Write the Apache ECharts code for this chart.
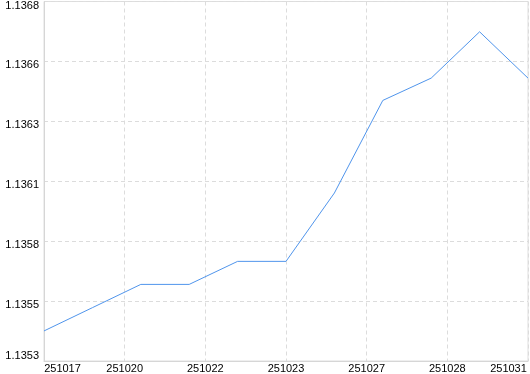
<!DOCTYPE html>
<html><head><meta charset="utf-8">
<script src="https://cdn.jsdelivr.net/npm/echarts@6/dist/echarts.min.js"></script>
<style>html,body{margin:0;padding:0;background:#fff}#c{width:530px;height:374px}</style>
</head><body><div id="c"></div>
<script>
const pointDates = ['251017','251020','251021','251022','251023','251024','251027','251028','251029','251030','251031'];
const seriesValues = [1.135418, 1.135517, 1.135616, 1.135616, 1.135714, 1.135714, 1.136005, 1.136399, 1.136494, 1.136691, 1.136494];
const xTickLabels = ['251017','251020','251022','251023','251027','251028','251031'];
const yTickValues = [1.13529, 1.135545, 1.1358, 1.136055, 1.13631, 1.136565, 1.13682];
const yTickLabels = ['1.1353','1.1355','1.1358','1.1361','1.1363','1.1366','1.1368'];

const xStep = 60 / (pointDates.length - 1);
const data = seriesValues.map((v, i) => [i * xStep, v]);

function nearestIdx(arr, v) {
  let best = 0, bd = Infinity;
  arr.forEach((a, i) => { const d = Math.abs(a - v); if (d < bd) { bd = d; best = i; } });
  return best;
}

const FS = 11;
const chart = echarts.init(document.getElementById('c'), null, {renderer: 'canvas'});
chart.setOption({
  animation: false,
  backgroundColor: '#fff',
  grid: {left: 44, right: 2, top: 1, bottom: 13, show: true, borderColor: '#dedede', borderWidth: 1, containLabel: false},
  xAxis: {
    type: 'value', min: 0, max: 60, interval: 10,
    axisLine: {show: true, lineStyle: {color: '#d6d6d6', width: 1}},
    axisTick: {show: false},
    splitLine: {show: true, lineStyle: {color: '#dcdcdc', type: [4, 3], width: 1}},
    axisLabel: {
      margin: 2, color: '#000', fontFamily: 'Liberation Sans', fontSize: FS,
      formatter: function (v) {
        const i = Math.round(v / 10);
        const t = xTickLabels[i];
        if (i === 0) return '{l|' + t + '}';
        if (i === xTickLabels.length - 1) return '{r|' + t + '}';
        return t;
      },
      rich: {
        l: {padding: [0, 0, 0, 37], fontFamily: 'Liberation Sans', fontSize: FS, color: '#000'},
        r: {padding: [0, 39, 0, 0], fontFamily: 'Liberation Sans', fontSize: FS, color: '#000'}
      }
    }
  },
  yAxis: {
    type: 'value', min: yTickValues[0], max: yTickValues[yTickValues.length - 1],
    axisLine: {show: true, lineStyle: {color: '#d6d6d6', width: 1}},
    axisTick: {show: false, customValues: yTickValues},
    splitLine: {show: true, lineStyle: {color: '#dcdcdc', type: [4, 3], width: 1}},
    axisLabel: {
      customValues: yTickValues,
      margin: 5, color: '#000', fontFamily: 'Liberation Sans', fontSize: FS,
      verticalAlign: 'middle',
      formatter: function (v) {
        const i = nearestIdx(yTickValues, v);
        return (i === 0 ? '{b|' : '{t|') + yTickLabels[i] + '}';
      },
      rich: {
        t: {padding: [8, 0, 0, 0], fontFamily: 'Liberation Sans', fontSize: FS, color: '#000'},
        b: {padding: [0, 0, 10, 0], fontFamily: 'Liberation Sans', fontSize: FS, color: '#000'}
      }
    }
  },
  series: [{
    type: 'line', data: data, symbol: 'none', smooth: false,
    lineStyle: {color: '#5095ec', width: 1}
  }]
});
</script>
</body></html>
